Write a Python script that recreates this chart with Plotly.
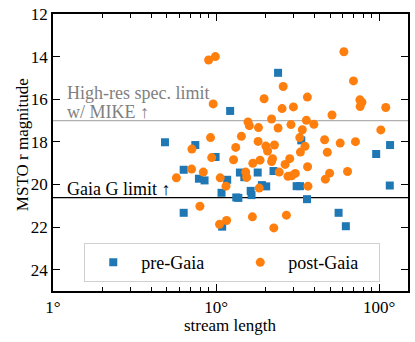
import plotly.graph_objects as go

# stream length (deg) and MSTO r magnitude
pre_len = [24.0, 12.2, 4.86, 7.46, 33.3, 95.9, 116.7, 9.93, 6.33, 7.85, 8.5, 11.7, 10.8,
           14.0, 14.9, 18.0, 19.1, 20.3, 22.5, 31.2, 32.7, 16.3, 16.5, 13.3, 13.7, 36.1,
           116.2, 6.33, 56.4, 62.5, 10.9]
pre_mag = [14.76, 16.55, 18.02, 18.15, 17.93, 18.57, 18.15, 18.71, 19.31, 19.73, 19.81, 19.78, 20.39,
           19.44, 19.66, 19.44, 20.03, 20.09, 19.37, 20.08, 20.08, 20.3, 20.5, 20.61, 20.63, 20.69,
           20.05, 21.33, 21.33, 21.96, 21.98]

post_len = [9.0, 9.9, 60.8, 69.6, 25.8, 19.7, 36.3, 9.6, 76.2, 78.4, 76.5, 109.8, 25.4, 29.8,
            51.4, 21.9, 15.7, 16.0, 18.2, 24.0, 28.8, 35.8, 39.8, 33.8, 14.3, 9.25, 102.4,
            7.11, 13.2, 18.1, 20.2, 22.8, 20.7, 32.6, 35.1, 32.9, 46.3, 57.7, 71.6, 48.1,
            9.4, 12.8, 18.6, 22.2, 21.9, 28.3, 26.5, 16.8, 36.4, 7.08, 8.35, 5.71, 10.6,
            11.5, 15.2, 15.4, 18.4, 24.4, 27.6, 29.1, 30.6, 36.6, 46.8, 49.7, 64.0, 7.96,
            27.0, 16.7, 11.6, 10.5, 22.6]
post_mag = [14.16, 14.0, 13.77, 15.14, 15.4, 15.98, 15.9, 16.22, 16.03, 16.14, 16.34, 16.39, 16.44, 16.36,
            16.74, 16.93, 17.07, 17.24, 17.33, 17.35, 17.19, 16.99, 17.18, 17.43, 17.74, 17.8, 17.44,
            18.34, 18.26, 17.98, 18.2, 18.15, 18.43, 17.8, 18.21, 18.48, 17.9, 18.06, 17.99, 18.49,
            18.74, 18.84, 18.86, 18.79, 18.92, 18.79, 19.06, 19.01, 19.17, 19.28, 19.42, 19.69, 19.69,
            20.08, 19.42, 19.67, 20.17, 19.42, 19.62, 19.59, 19.48, 20.08, 19.75, 19.47, 19.39, 21.02,
            21.44, 21.52, 21.69, 21.87, 22.04]

mike_limit = 17.0
gaia_limit = 20.62

x_ticks = [1, 10, 100]
x_ticktext = ["1°", "10°", "100°"]
x_minor = [2, 3, 4, 5, 6, 7, 8, 9, 20, 30, 40, 50, 60, 70, 80, 90]
y_ticks = [12, 14, 16, 18, 20, 22, 24]

font = "Liberation Serif, Times New Roman, serif"

fig = go.Figure()
fig.add_trace(go.Scatter(
    x=pre_len, y=pre_mag, mode="markers", name="pre-Gaia",
    marker=dict(symbol="square", size=8, color="#1f77b4", line=dict(width=0)),
))
fig.add_trace(go.Scatter(
    x=post_len, y=post_mag, mode="markers", name="post-Gaia",
    marker=dict(symbol="circle", size=9, color="#ff7f0e", line=dict(width=0)),
))

fig.add_hline(y=mike_limit, line=dict(color="#b0b0b0", width=1.2), layer="below")
fig.add_hline(y=gaia_limit, line=dict(color="black", width=1.2), layer="below")

# limit labels
fig.add_annotation(x=0.035, y=15.72, xref="paper", yref="y", xanchor="left", yanchor="middle",
                   showarrow=False, text="High-res spec. limit",
                   font=dict(family=font, size=18, color="#808080"))
fig.add_annotation(x=0.035, y=16.61, xref="paper", yref="y", xanchor="left", yanchor="middle",
                   showarrow=False, text="w/ MIKE ↑",
                   font=dict(family=font, size=18, color="#808080"))
fig.add_annotation(x=0.035, y=20.19, xref="paper", yref="y", xanchor="left", yanchor="middle",
                   showarrow=False, text="Gaia G limit ↑",
                   font=dict(family=font, size=18, color="black"))

# axis titles
fig.add_annotation(x=0.5, y=-0.123, xref="paper", yref="paper", xanchor="center", yanchor="middle",
                   showarrow=False, text="stream length",
                   font=dict(family=font, size=17, color="black"))
fig.add_annotation(x=-0.087, y=0.527, xref="paper", yref="paper", xanchor="center", yanchor="middle",
                   showarrow=False, text="MSTO r magnitude", textangle=-90,
                   font=dict(family=font, size=17, color="black"))

axis_common = dict(showline=True, linecolor="black", linewidth=1.5, mirror="ticks",
                   ticks="inside", ticklen=7, tickcolor="black", showgrid=False, zeroline=False,
                   automargin=False, ticklabeloverflow="allow",
                   tickfont=dict(family=font, size=17, color="black"))

fig.update_xaxes(type="log", range=[0, 2.177], tickvals=x_ticks, ticktext=x_ticktext,
                 minor=dict(ticks="inside", ticklen=4, tickcolor="black", tickvals=x_minor),
                 **axis_common)
fig.update_yaxes(range=[25, 12], tickvals=y_ticks, **axis_common)

fig.update_layout(
    width=415, height=342,
    margin=dict(l=53, r=7, t=14, b=51),
    paper_bgcolor="white", plot_bgcolor="white",
    font=dict(family=font, color="black"),
    legend=dict(orientation="h", x=0.505, y=0.032, xanchor="center", yanchor="bottom",
                bgcolor="rgba(255,255,255,0.8)", bordercolor="#d0d0d0", borderwidth=1,
                font=dict(family=font, size=18, color="black"),
                entrywidth=86, itemwidth=46),
)

# drop the default 8px page margin so the figure fills the window exactly
fig.write_html("out.html", config=dict(displayModeBar=False),
               post_script="document.body.style.margin = '0';")
